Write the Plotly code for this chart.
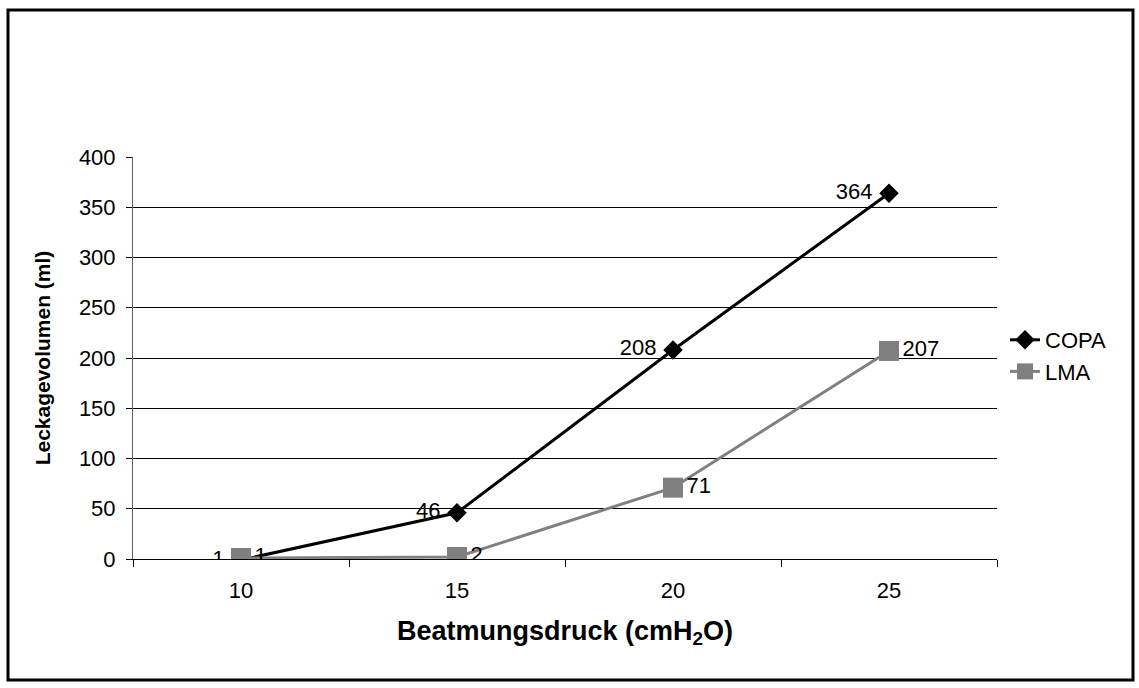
import plotly.graph_objects as go

categories = ["10", "15", "20", "25"]
copa = [-1, 46, 208, 364]
lma = [1, 2, 71, 207]

FONT = "Liberation Sans, Arial, sans-serif"
NB = "\u00a0"

fig = go.Figure()
fig.add_trace(go.Scatter(
    x=categories, y=copa, name="COPA", mode="lines+markers+text",
    line=dict(color="#000000", width=3),
    marker=dict(symbol="diamond", size=15, color="#000000"),
    text=[str(v) + NB for v in copa], textposition="middle left",
    textfont=dict(family=FONT, size=22, color="#000000"),
))
fig.add_trace(go.Scatter(
    x=categories, y=lma, name="LMA", mode="lines+markers+text",
    line=dict(color="#808080", width=3),
    marker=dict(symbol="square", size=20, color="#808080"),
    text=[str(v) for v in lma], textposition="middle right",
    textfont=dict(family=FONT, size=22, color="#000000"),
))

L, R, T, B = 133, 1139 - 997, 157, 688 - 559
W, H = 1139, 688
pw, ph = W - L - R, H - T - B

def px(x):
    return (x - L) / pw

def py(y):
    return (H - B - y) / ph

fig.update_layout(
    width=W, height=H,
    margin=dict(l=L, r=R, t=T, b=B, pad=0),
    paper_bgcolor="white", plot_bgcolor="white",
    font=dict(family=FONT, size=22, color="#000000"),
    showlegend=True,
    legend=dict(x=px(1005), y=py(356), xanchor="left", yanchor="middle",
                font=dict(size=22), bgcolor="rgba(0,0,0,0)",
                itemwidth=30, tracegroupgap=0),
    xaxis=dict(
        type="category", range=[-0.5, 3.5],
        tickson="boundaries", ticks="outside", ticklen=7, tickcolor="#000000",
        showline=True, linecolor="#000000", linewidth=1,
        showgrid=False, tickfont=dict(size=22), ticklabelstandoff=12,
        title=dict(text="<b>Beatmungsdruck (cmH<sub>2</sub>O)</b>", font=dict(size=27), standoff=18),
    ),
    yaxis=dict(
        range=[0, 400], dtick=50, tick0=0,
        ticks="outside", ticklen=6, tickcolor="#000000",
        showline=True, linecolor="#606060", linewidth=1,
        showgrid=True, gridcolor="#000000", gridwidth=1,
        zeroline=False, tickfont=dict(size=22), ticklabelstandoff=6,
        title=dict(text="<b>Leckagevolumen (ml)</b>", font=dict(size=21), standoff=22),
    ),
    shapes=[dict(type="rect", xref="paper", yref="paper",
                 x0=px(8), x1=px(1133), y0=py(680), y1=py(10),
                 line=dict(color="#000000", width=3), fillcolor="rgba(0,0,0,0)")],
)

fig.write_html("out.html")
